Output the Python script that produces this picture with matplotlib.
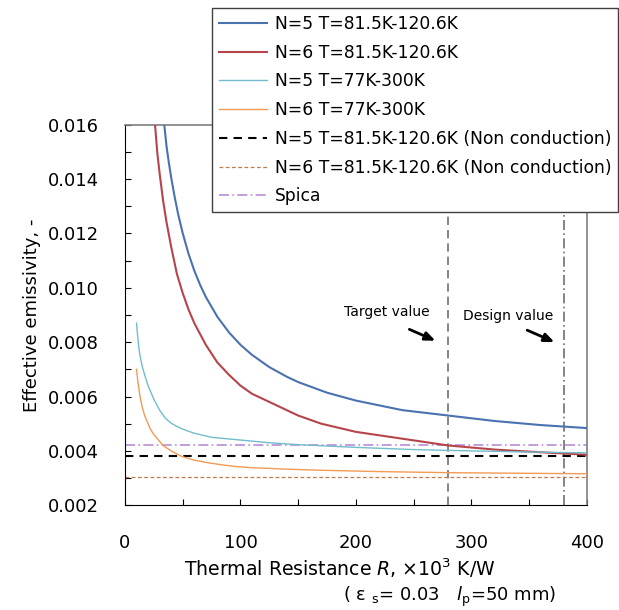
import numpy as np
import matplotlib
matplotlib.use("Agg")
import matplotlib.pyplot as plt
from matplotlib.ticker import MultipleLocator, FormatStrFormatter

plt.rcParams['font.family'] = ['DejaVu Sans']
plt.rcParams['mathtext.fontset'] = 'dejavusans'

# data (R in 10^3 K/W, effective emissivity)
r_n5 = [34, 36, 38, 40, 43, 46, 50, 55, 60, 65, 70, 80, 90, 100, 110, 125, 140, 150,
        175, 200, 240, 280, 320, 360, 400]
e_n5 = [0.0160, 0.01519, 0.01459, 0.01405, 0.01334, 0.01271, 0.0120, 0.01125, 0.01063,
        0.01011, 0.00966, 0.00893, 0.00836, 0.0079, 0.00753, 0.00708, 0.00673, 0.00653,
        0.00614, 0.00585, 0.0055, 0.0053, 0.0051, 0.00495, 0.00484]

r_n6 = [26, 28, 30, 33, 36, 40, 45, 50, 55, 60, 65, 70, 80, 90, 100, 110, 125, 140, 150,
        170, 200, 240, 280, 320, 360, 400]
e_n6 = [0.0160, 0.01495, 0.0142, 0.0132, 0.0124, 0.0115, 0.0105, 0.0098, 0.0092, 0.0087,
        0.0083, 0.0079, 0.00725, 0.0068, 0.0064, 0.0061, 0.0058, 0.0055, 0.0053,
        0.0050, 0.0047, 0.00445, 0.0042, 0.00405, 0.00395, 0.00386]

r_n5_wide = [10, 11, 12, 13, 15, 17, 20, 23, 25, 30, 35, 40, 45, 50, 60, 75, 90, 100,
             125, 150, 200, 250, 300, 350, 400]
e_n5_wide = [0.0087, 0.0082, 0.0078, 0.0075, 0.0071, 0.0068, 0.0064, 0.0061, 0.0059,
             0.0055, 0.0052, 0.00502, 0.00490, 0.0048, 0.00465, 0.0045, 0.00444, 0.0044,
             0.0043, 0.00423, 0.00413, 0.00405, 0.00400, 0.00396, 0.00393]

r_n6_wide = [10, 11, 12, 13, 15, 17, 19, 22, 25, 29, 33, 40, 49, 60, 70, 82, 95, 111,
             140, 169, 220, 280, 340, 400]
e_n6_wide = [0.0070, 0.0066, 0.0063, 0.0060, 0.0056, 0.0053, 0.0051, 0.0048, 0.0046,
             0.0044, 0.0042, 0.0040, 0.0038, 0.00366, 0.00358, 0.0035, 0.00343, 0.00338,
             0.00333, 0.00329, 0.00324, 0.0032, 0.00318, 0.00316]

e_n5_noncond = 0.0038
e_n6_noncond = 0.00305
e_spica = 0.0042

r_target = 280
r_design = 380

fig = plt.figure(figsize=(6.19, 6.10), dpi=100)
ax = fig.add_axes([0.2019, 0.1716, 0.7464, 0.6243])

ax.plot(r_n5, e_n5, color='#4a72b0', lw=1.5, label='N=5 T=81.5K-120.6K', zorder=3)
ax.plot(r_n6, e_n6, color='#b5454a', lw=1.5, label='N=6 T=81.5K-120.6K', zorder=3)
ax.plot(r_n5_wide, e_n5_wide, color='#72bccb', lw=1.0, label='N=5 T=77K-300K', zorder=3)
ax.plot(r_n6_wide, e_n6_wide, color='#f39a55', lw=1.0, label='N=6 T=77K-300K', zorder=3)
ax.axhline(e_n5_noncond, color='black', lw=1.5, ls=(0, (4, 3)),
           label='N=5 T=81.5K-120.6K (Non conduction)')
ax.axhline(e_n6_noncond, color='#c07a4a', lw=0.9, ls=(0, (3, 2)),
           label='N=6 T=81.5K-120.6K (Non conduction)')
ax.axhline(e_spica, color='#b48fd8', lw=1.2, ls=(0, (6, 2, 1, 2)), label='Spica')

ax.axvline(r_target, color='#707070', lw=1.2, ls=(0, (5, 3)), zorder=1)
ax.axvline(r_design, color='#707070', lw=1.2, ls=(0, (6, 2, 1, 2)), zorder=1)

ax.text(227, 0.00911, 'Target value', fontsize=10, ha='center', va='center')
ax.text(332, 0.00896, 'Design value', fontsize=10, ha='center', va='center')
arrow = dict(arrowstyle='-|>,head_length=0.6,head_width=0.25', color='black', lw=2)
ax.annotate('', xy=(271, 0.00801), xytext=(244, 0.00851), arrowprops=arrow)
ax.annotate('', xy=(374, 0.00796), xytext=(346, 0.00848), arrowprops=arrow)

ax.set_xlim(0, 400)
ax.set_ylim(0.002, 0.016)
ax.xaxis.set_major_locator(MultipleLocator(100))
ax.xaxis.set_minor_locator(MultipleLocator(50))
ax.yaxis.set_major_locator(MultipleLocator(0.002))
ax.yaxis.set_minor_locator(MultipleLocator(0.001))
ax.yaxis.set_major_formatter(FormatStrFormatter('%.3f'))
ax.tick_params(which='both', direction='in', length=4, width=0.8)
ax.tick_params(axis='x', labelsize=13, pad=21)
ax.tick_params(axis='y', labelsize=13, pad=19)
for side in ['top', 'right']:
    ax.spines[side].set_color('#7f7f7f')
    ax.spines[side].set_linewidth(1.2)

ax.set_ylabel('Effective emissivity, -', fontsize=13, labelpad=5)
fig.text(340 / 619, 1 - 568 / 610, r'Thermal Resistance $\mathit{R}$, ×10$^{3}$ K/W',
         fontsize=13.6, ha='center', va='center')
fig.text(450 / 619, 1 - 597 / 610, r'( ε $_{\rm s}$= 0.03   $\mathit{l}$$_{\rm p}$=50 mm)',
         fontsize=13, ha='center', va='center')

leg = ax.legend(loc='upper right', bbox_to_anchor=(618 / 619, 1 - 8 / 610),
                bbox_transform=fig.transFigure, fontsize=12.3, frameon=True, fancybox=False,
                handlelength=2.8, handletextpad=0.45, labelspacing=0.63, borderpad=0.4,
                borderaxespad=0)
leg.get_frame().set_edgecolor('#404040')
leg.get_frame().set_linewidth(1.0)
leg.get_frame().set_alpha(1)

fig.savefig('out.png', dpi=100)
